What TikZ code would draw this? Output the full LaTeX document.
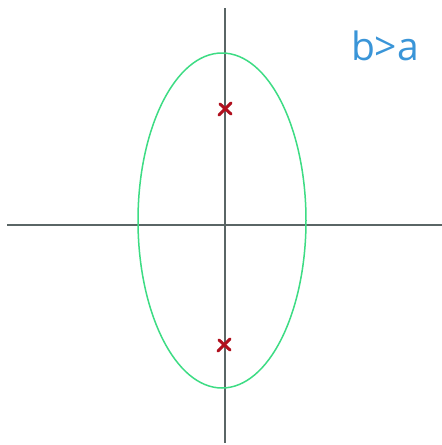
\documentclass[tikz,border=0pt]{standalone}
\usepackage{fontspec}
\setmainfont{Open Sans}
\usetikzlibrary{calc}
\definecolor{axisgray}{HTML}{5A6565}
\definecolor{ellgreen}{HTML}{3DDC84}
\definecolor{focred}{HTML}{B0101E}
\definecolor{notblue}{HTML}{3A95D8}
\begin{document}
\begin{tikzpicture}[x=1pt,y=-1pt,
  axis/.style={draw=axisgray,line width=1.9pt},
  conic/.style={draw=ellgreen,line width=1.5pt},
  focmark/.style={draw=focred,line width=3pt,line cap=round}]
\useasboundingbox[fill=white] (0,0) rectangle (442,445);
% axes
\draw[axis] (7,225) -- (442,225);
\draw[axis] (225,8) -- (225,443);
% ellipse
\draw[conic] (222,220.5) ellipse [x radius=84, y radius=-167.5];
% foci
\coordinate (f1) at (225,109);
\coordinate (f2) at (224,345);
\foreach \f in {f1,f2}{
  \draw[focmark] ($(\f)+(-6,6)$) -- ($(\f)+(6,-6)$);
  \draw[focmark] ($(\f)+(-5,-5)$) -- ($(\f)+(6,5)$);
}
% label
\node[text=notblue,font=\fontsize{39}{39}\selectfont,inner sep=0pt] (lbl) at (385,46) {b>a};
\end{tikzpicture}
\end{document}
